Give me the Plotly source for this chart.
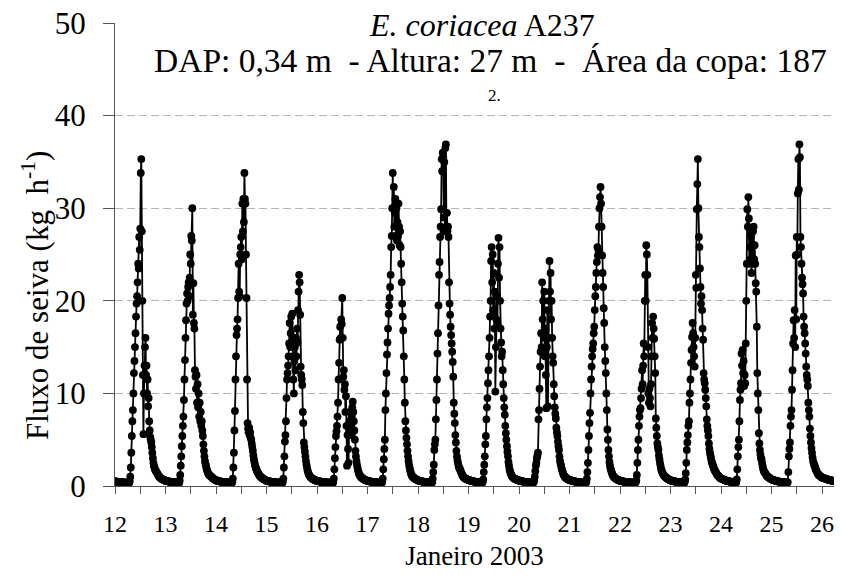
import pandas as pd
import plotly.graph_objects as go

# Sap flow (kg h-1), 15-min readings, one list per day of January 2003
day12 = [0.5,0.5,0.48,0.47,0.46,0.45,0.45,0.44,
         0.43,0.42,0.42,0.41,0.4,0.4,0.39,0.39,
         0.38,0.38,0.37,0.37,0.36,0.36,0.36,0.35,
         0.35,0.35,0.34,0.34,0.5,1.0,2.0,3.6,
         5.4,7,8.2,10,12.2,13.5,15,16.5,
         18.3,19.7,20.5,22,24,23.5,26.9,25.5,
         27.8,33.8,35.3,27.5,20,12,5.6,10,
         13,15,16,12,13,10,11.5,8.6,
         9.5,7,6,5.3,5,4.7,4.2,3.6,
         3,2.5,2.2,2.0,1.8,1.7,1.6,1.5,
         1.4,1.3,1.2,1.1,1.0,0.95,0.9,0.85,
         0.8,0.75,0.72,0.7,0.68,0.65,0.62,0.6]
day13 = [0.58,0.56,0.55,0.53,0.52,0.5,0.49,0.48,
         0.47,0.46,0.45,0.44,0.43,0.42,0.42,0.41,
         0.4,0.4,0.39,0.39,0.38,0.38,0.37,0.37,
         0.36,0.36,0.36,0.6,1.2,2.2,3.2,4.3,
         5.4,6.5,7.5,9.3,11.5,13.6,16,17.9,
         19.7,20.8,20,21.5,22,20.5,22.5,25,
         24,27,26.5,30,18.5,21.9,17.6,17,
         12.5,11.8,10.5,12,9,11,8.5,10,
         7.5,9,7,8,6.5,7,6,5.4,
         4.5,3.8,3.2,2.7,2.4,2.2,1.9,1.7,
         1.5,1.4,1.3,1.2,1.15,1.1,1.05,1.0,
         0.95,0.9,0.85,0.8,0.76,0.72,0.68,0.65]
day14 = [0.62,0.6,0.58,0.56,0.55,0.53,0.52,0.5,
         0.49,0.48,0.47,0.46,0.45,0.44,0.43,0.42,
         0.42,0.41,0.4,0.4,0.39,0.39,0.38,0.38,
         0.37,0.37,0.36,0.36,0.36,0.35,0.35,0.4,
         0.8,2,3.6,6,8.1,11.5,14,16.3,
         17,18,20.3,24,21,20.5,25,25.8,
         26.9,24.5,30.5,27.5,31,28.5,33.8,31,
         30.5,25,20.3,11.5,6.8,6.2,5.8,6.3,
         5.5,5.8,5.2,5,4.6,4.2,3.8,3.3,
         2.9,2.6,2.3,2.1,1.9,1.8,1.6,1.5,
         1.4,1.3,1.2,1.1,1.05,1.0,0.95,0.9,
         0.85,0.8,0.77,0.74,0.7,0.67,0.64,0.6]
day15 = [0.58,0.56,0.55,0.53,0.52,0.5,0.49,0.48,
         0.47,0.46,0.45,0.44,0.43,0.42,0.42,0.41,
         0.4,0.4,0.39,0.39,0.38,0.38,0.37,0.37,
         0.36,0.36,0.36,0.35,0.35,0.35,0.34,0.4,
         0.8,2,3.2,4.8,5.5,7,9.5,11.5,
         12.2,13,14,15.4,17.6,15,16.5,18.3,
         15.5,18.6,14,11.5,10,13.5,15,12.5,
         16,14,17,15.5,19,21,22.8,22,
         18.5,12.9,12,11.5,10.9,8,6.8,4.7,
         4.2,3.7,3.2,2.7,2.3,2.0,1.7,1.5,
         1.3,1.2,1.1,1.0,0.95,0.9,0.85,0.8,
         0.76,0.72,0.7,0.67,0.64,0.62,0.6,0.58]
day16 = [0.56,0.55,0.53,0.52,0.5,0.49,0.48,0.47,
         0.46,0.45,0.44,0.43,0.42,0.42,0.41,0.4,
         0.4,0.39,0.39,0.38,0.38,0.37,0.37,0.36,
         0.36,0.36,0.35,0.35,0.35,0.34,0.34,0.4,
         0.8,1.8,3,4.2,5.4,5.9,6.5,7.5,
         9,11.5,13.3,15.8,17.2,16,18,17.5,
         20.3,16,11.8,12.5,10.4,11,8,9.7,
         6.5,2.2,5.5,4,2.5,6,7,5.5,
         8,6.5,7.5,8.5,9.1,8,7,6,
         5,3.8,3.2,2.7,2.3,2.0,1.7,1.5,
         1.3,1.2,1.1,1.0,0.95,0.9,0.85,0.8,
         0.76,0.72,0.7,0.67,0.64,0.62,0.6,0.58]
day17 = [0.56,0.55,0.53,0.52,0.5,0.49,0.48,0.47,
         0.46,0.45,0.44,0.43,0.42,0.42,0.41,0.4,
         0.4,0.39,0.39,0.38,0.38,0.37,0.37,0.36,
         0.36,0.36,0.35,0.35,0.4,0.8,1.8,2.9,
         4,5,8.2,10,12.2,14.2,15.5,17,
         18.6,19.5,20.3,21.5,22.8,25.8,27,30,
         33.8,30,32.3,28,29.5,31,27,30,
         26.5,28.5,27,30.5,28,26,27.5,25.8,
         24,22,19.7,18.3,16.8,14,11.5,9,
         7,6,5.2,4.5,3.8,3.2,2.7,2.3,
         2.0,1.7,1.5,1.3,1.15,1.05,1.0,0.95,
         0.9,0.85,0.8,0.76,0.72,0.7,0.67,0.64]
day18 = [0.62,0.6,0.58,0.56,0.55,0.53,0.52,0.5,
         0.49,0.48,0.47,0.46,0.45,0.44,0.43,0.42,
         0.42,0.41,0.4,0.4,0.39,0.39,0.38,0.38,
         0.37,0.37,0.36,0.4,0.8,1.5,2.3,3.9,
         4.5,5,7.2,9.3,11.5,14.3,16.5,19.5,
         22.8,24.2,26.9,28,29.9,35.3,34,36,
         35.5,29,35,27.5,36.5,36.9,28,29.5,
         27.5,28,26.9,22,19.7,18.5,17.2,16.3,
         15.4,14.5,13.4,11.8,9,7.8,6.8,5.5,
         4.7,3.8,3.2,2.8,2.5,2.2,2.0,1.9,
         1.8,1.6,1.5,1.35,1.2,1.1,1.0,0.95,
         0.9,0.85,0.8,0.78,0.75,0.72,0.7,0.68]
day19 = [0.66,0.64,0.62,0.6,0.58,0.56,0.55,0.53,
         0.52,0.5,0.49,0.48,0.47,0.46,0.45,0.44,
         0.43,0.42,0.42,0.41,0.4,0.4,0.39,0.39,
         0.38,0.38,0.37,0.4,0.7,1.5,2.3,3.2,
         4.5,5.4,7.2,8.5,9.5,11.1,12.5,14,
         16,18.3,20,24.3,25.8,22,25,19,
         23,17,21,10.2,15,18,20.5,17.5,
         24,26.8,22.5,25.8,20,17,15.5,14,
         14.5,12.5,11,9.5,8.5,7.7,6.5,5.7,
         5,4.3,3.7,3.2,2.6,2.2,1.8,1.6,
         1.4,1.25,1.1,1.0,0.95,0.9,0.86,0.82,
         0.78,0.75,0.72,0.7,0.68,0.66,0.64,0.62]
day20 = [0.6,0.58,0.56,0.55,0.53,0.52,0.5,0.49,
         0.48,0.47,0.46,0.45,0.44,0.43,0.42,0.42,
         0.41,0.4,0.4,0.39,0.39,0.38,0.38,0.37,
         0.37,0.36,0.36,0.36,0.4,0.6,1.0,1.6,
         2.2,2.5,3,3.3,3.6,7.2,8.2,10.5,
         12.9,14.5,16.5,15,22,18,20,16,
         21,14,17,12,8.4,15,19,8.6,
         16,20,24.3,21,23,18,20,16,
         14,13.3,11,9.7,8.5,7.8,7.3,6.3,
         5.8,5.4,4.8,4.3,3.9,3.2,2.7,2.4,
         2.2,1.9,1.7,1.5,1.35,1.2,1.1,1.0,
         0.95,0.9,0.85,0.8,0.75,0.72,0.7,0.68]
day21 = [0.66,0.64,0.62,0.6,0.58,0.56,0.55,0.53,
         0.52,0.5,0.49,0.48,0.47,0.46,0.45,0.44,
         0.43,0.42,0.42,0.41,0.4,0.4,0.39,0.39,
         0.38,0.38,0.37,0.37,0.36,0.36,0.36,0.35,
         0.4,0.8,1.5,2.5,3.9,5.4,6.8,7.9,
         10,11.5,12.9,14,14.8,15.4,16.5,17.2,
         19,20.5,21.5,23,24.2,25.8,24.9,25.5,
         28,30,31.2,32.3,30.5,28,24.9,23,
         21.5,19.2,17.6,15,13.5,12.2,10,8.2,
         6.1,5,3.9,3.2,2.6,2.2,1.9,1.7,
         1.5,1.35,1.2,1.1,1.0,0.95,0.9,0.85,
         0.8,0.76,0.72,0.7,0.67,0.64,0.62,0.6]
day22 = [0.58,0.56,0.55,0.53,0.52,0.5,0.49,0.48,
         0.47,0.46,0.45,0.44,0.43,0.42,0.42,0.41,
         0.4,0.4,0.39,0.39,0.38,0.38,0.37,0.37,
         0.36,0.36,0.36,0.35,0.35,0.35,0.4,0.6,
         1.2,2.5,3.9,5,6.5,7.5,8.2,8.4,
         9.5,10.5,12.5,11,13,15.4,14,20,
         22.8,20,26,25,22.8,15,10,9,
         10.5,9.5,8.6,11,14,17.6,16,18.3,
         17,15.9,14,12.2,7.3,6.3,5.4,4.6,
         4.2,3.9,3.3,2.9,2.5,2.2,1.9,1.7,
         1.5,1.4,1.3,1.2,1.1,1.05,1.0,0.95,
         0.9,0.85,0.8,0.77,0.74,0.7,0.67,0.64]
day23 = [0.62,0.6,0.58,0.56,0.55,0.53,0.52,0.5,
         0.49,0.48,0.47,0.46,0.45,0.44,0.43,0.42,
         0.42,0.41,0.4,0.4,0.39,0.39,0.38,0.38,
         0.37,0.37,0.36,0.4,0.7,1.4,2.5,3.9,
         4.7,5.5,6.5,7,9,10,11.5,13.3,
         14.7,16.1,17.6,16.5,15,14,12.9,16,
         22.8,21.4,29.9,32.6,35.3,30,26.9,25.8,
         23.5,21.5,19.7,20.5,19,17,15.8,12.2,
         11.5,11.1,10.4,9.5,8.6,7.2,6.5,6,
         5.4,4.6,4.0,3.6,3.3,3.0,2.7,2.5,
         2.3,2.2,2.0,1.8,1.7,1.6,1.5,1.4,
         1.3,1.2,1.15,1.1,1.0,0.95,0.9,0.85]
day24 = [0.82,0.8,0.77,0.74,0.72,0.7,0.67,0.65,
         0.62,0.6,0.58,0.56,0.55,0.53,0.52,0.5,
         0.49,0.48,0.47,0.46,0.45,0.44,0.43,0.42,
         0.42,0.41,0.4,0.4,0.39,0.39,0.7,1.8,
         3.2,4.2,5,7,9.3,10.4,11.1,14.3,
         13,14.7,12.2,13.5,10.8,12,11.1,15.4,
         20,24,29.9,28,31.2,28.9,24,25.8,
         24.5,27,23,26,24,27.5,28,24.5,
         26,24,21.9,21,17.2,12.2,10,8.2,
         5.7,4.6,3.9,3.4,3.0,2.9,2.5,2.2,
         1.9,1.7,1.55,1.45,1.4,1.3,1.2,1.1,
         1.05,1.0,0.95,0.9,0.9,0.85,0.8,0.75]
day25 = [0.72,0.7,0.68,0.66,0.64,0.62,0.6,0.58,
         0.56,0.55,0.53,0.52,0.5,0.49,0.48,0.47,
         0.46,0.45,0.44,0.43,0.42,0.42,0.41,0.4,
         0.4,0.39,0.39,0.38,0.38,0.37,0.37,0.4,
         1.5,3.2,4,4.7,6.5,7.5,8.2,10.4,
         12.5,15.4,17.9,16,19,15,24.9,18,
         26.9,25,31.6,35.3,32,36.9,35.5,26.9,
         25.8,24,22.5,21.8,20.8,18.3,17.2,16.5,
         15.4,14.3,12.9,12,11.5,10.8,9,8.2,
         7.5,6.2,5.4,4.7,4.1,3.6,3.1,2.7,
         2.5,2.3,2.2,2.0,1.8,1.7,1.55,1.45,
         1.35,1.25,1.2,1.15,1.1,1.05,1.0,0.95]
day26 = [0.92,0.9,0.88,0.86,0.84,0.82,0.8,0.78,
         0.76,0.74,0.72,0.7,0.68,0.67,0.66,0.64,
         0.62,0.61,0.6,0.58,0.57,0.56,0.55,0.54,
         0.53,0.52,0.51,0.5,0.5,0.49,0.48,0.48,0.47]

days = [day12, day13, day14, day15, day16, day17, day18, day19,
        day20, day21, day22, day23, day24, day25, day26]
flow = [v for d in days for v in d]
times = pd.date_range("2003-01-12 00:00", periods=len(flow), freq="15min")

title_line1 = "<i>E. coriacea</i> A237"
title_line2 = "DAP: 0,34 m\u00a0 - Altura: 27 m\u00a0 -\u00a0 Área da copa: 187"
footnote = "2."
y_title = "Fluxo de seiva (kg\u00a0 h<sup>-1</sup>)"
x_title = "Janeiro 2003"

SERIF = "Liberation Serif"

# The page body adds an 8 px margin all round; the figure is sized to fit
# inside it, so the plot area lands at x 115-834, y 23-486 of the window.
W, H = 826, 563
PL, PT, PB = 107, 15, 85
PW, PH = W - PL, H - PT - PB

fig = go.Figure()
fig.add_trace(go.Scatter(
    x=times, y=flow, mode="lines+markers",
    line=dict(color="black", width=1.8),
    marker=dict(color="black", size=7.8),
    showlegend=False,
))

fig.update_layout(
    width=W, height=H,
    margin=dict(l=PL, r=0, t=PT, b=PB, autoexpand=False),
    paper_bgcolor="white", plot_bgcolor="white",
    font=dict(family=SERIF, color="black"),
    xaxis=dict(
        type="date", automargin=False,
        range=["2003-01-12 00:00", "2003-01-26 05:42"],
        tick0="2003-01-12", dtick=86400000, tickformat="%d",
        ticks="outside", ticklen=7, tickcolor="#555", tickwidth=1,
        showline=True, linecolor="#555", linewidth=1,
        showgrid=False, zeroline=False,
        minor=dict(dtick=43200000, ticks="outside", ticklen=7,
                   tickcolor="#555", showgrid=False),
        tickfont=dict(family=SERIF, size=24, color="black"),
        ticklabelstandoff=9, ticklabeloverflow="allow",
        title=dict(text=x_title, font=dict(family=SERIF, size=27), standoff=13),
    ),
    yaxis=dict(
        range=[0, 50], dtick=10, tick0=0, automargin=False,
        ticks="outside", ticklen=11, tickcolor="#555",
        showline=True, linecolor="#555", linewidth=1,
        showgrid=True, gridcolor="#b5b5b5", griddash="8px,4px", gridwidth=1,
        zeroline=False,
        tickfont=dict(family=SERIF, size=31, color="black"),
        ticklabelstandoff=11, ticklabeloverflow="allow",
    ),
    annotations=[
        dict(text=title_line1, xref="paper", yref="paper",
             x=(482 - 115) / PW, y=(486 - 25) / PH, xanchor="center", yanchor="middle",
             showarrow=False, font=dict(family=SERIF, size=32)),
        dict(text=title_line2, xref="paper", yref="paper",
             x=(490 - 115) / PW, y=(486 - 60) / PH, xanchor="center", yanchor="middle",
             showarrow=False, font=dict(family=SERIF, size=33.5)),
        dict(text=footnote, xref="paper", yref="paper",
             x=(494 - 115) / PW, y=(486 - 95) / PH, xanchor="center", yanchor="middle",
             showarrow=False, font=dict(family=SERIF, size=17)),
        dict(text=y_title, xref="paper", yref="paper", textangle=-90,
             x=(35 - 115) / PW, y=(486 - 296) / PH, xanchor="center", yanchor="middle",
             showarrow=False, font=dict(family=SERIF, size=31)),
    ],
)

fig.write_html("out.html")
